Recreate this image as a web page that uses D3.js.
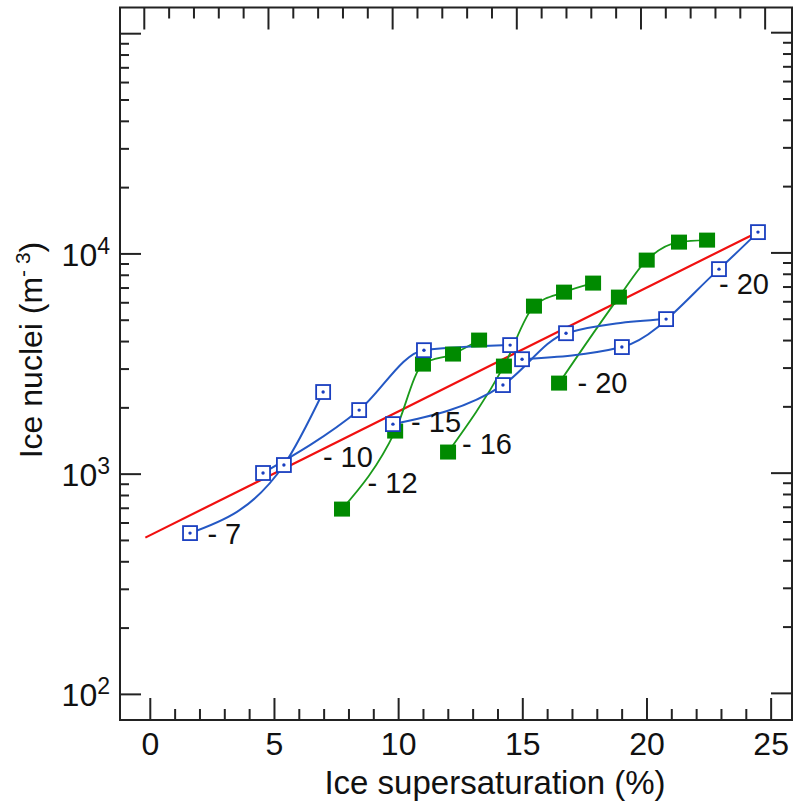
<!DOCTYPE html>
<html>
<head>
	<meta charset="utf-8">
	<title>Ice nuclei</title>
	<script src="https://cdn.jsdelivr.net/npm/d3@7/dist/d3.min.js"></script>
	<style type="text/css">
		body{
			margin: 0;
			padding: 0;
			background: #fff;
		}
		svg{
			display: block;
		}
		.tick-label{
			font-family: "Liberation Sans", Arial, sans-serif;
			font-size: 32px;
			fill: #111;
		}
		.temp-label{
			font-family: "Liberation Sans", Arial, sans-serif;
			font-size: 29px;
			fill: #111;
		}
	</style>
</head>
<body>
	<svg id="svg" width="798" height="802"></svg>
</body>
	<script type="text/javascript">
		// axis ticks
		const xMajor = [0, 5, 10, 15, 20, 25];
		const xMinor = d3.range(0, 26, 1);
		const yMajor = [100, 1000, 10000, 100000];
		const yLabelled = [2, 3, 4];

		// red fit line (end points)
		const fitX = [-0.2, 24.4];
		const fitY = [515, 12450];

		// blue curves (open squares)
		const blue7X = [1.6, 5.38, 6.96];
		const blue7Y = [540, 1100, 2360];
		const blue10X = [4.54, 8.41, 11.02, 14.49];
		const blue10Y = [1012, 1954, 3655, 3855];
		const blue15X = [9.77, 14.20, 16.74, 20.77];
		const blue15Y = [1687, 2538, 4365, 5058];
		const blue20X = [14.97, 18.99, 22.90, 24.47];
		const blue20Y = [3326, 3776, 8530, 12560];

		// green curves (filled squares)
		const green12X = [7.72, 9.86, 10.98, 12.19, 13.24];
		const green12Y = [694, 1569, 3160, 3510, 4062];
		const green16X = [11.99, 14.24, 15.45, 16.66, 17.83];
		const green16Y = [1260, 3095, 5794, 6707, 7371];
		const green20X = [16.46, 18.87, 19.99, 21.29, 22.42];
		const green20Y = [2591, 6367, 9374, 11314, 11553];

		// temperature labels
		const tempText = ['- 7', '- 10', '- 15', '- 20', '- 12', '- 16', '- 20'];
		const tempX = [2.3, 6.95, 10.5, 22.9, 8.75, 12.55, 17.2];
		const tempY = [540, 1196, 1730, 7370, 920, 1383, 2618];

		const zip = (xs, ys) => xs.map((v, i) => ({x: v, y: ys[i]}));

		const blueSeries = [zip(blue7X, blue7Y), zip(blue10X, blue10Y), zip(blue15X, blue15Y), zip(blue20X, blue20Y)];
		const greenSeries = [zip(green12X, green12Y), zip(green16X, green16Y), zip(green20X, green20Y)];

		let svg = d3.select('#svg');
		let pLeft = 120, pRight = 792, pTop = 7.5, pBottom = 720;

		let x = d3.scaleLinear().domain([-1.22, 25.84]).range([pLeft, pRight]);
		let y = d3.scaleLog().domain([76.5, 131500]).range([pBottom, pTop]);

		svg.append('rect').attr('width', 798).attr('height', 802).style('fill', '#fff');

		let plot = svg.append('g');

		// red line
		plot.append('path')
			.datum(zip(fitX, fitY))
			.attr('d', d3.line().x(d => x(d.x)).y(d => y(d.y)))
			.style('fill', 'none')
			.style('stroke', '#f01010')
			.style('stroke-width', 2.2);

		let curve = d3.line().x(d => x(d.x)).y(d => y(d.y)).curve(d3.curveMonotoneX);

		greenSeries.forEach(function(s){
			plot.append('path').datum(s).attr('d', curve)
				.style('fill', 'none').style('stroke', '#1a9a1a').style('stroke-width', 1.8);
		});
		blueSeries.forEach(function(s){
			plot.append('path').datum(s).attr('d', curve)
				.style('fill', 'none').style('stroke', '#2458c4').style('stroke-width', 2);
		});

		// markers
		greenSeries.forEach(function(s){
			plot.selectAll(null).data(s).enter().append('rect')
				.attr('x', d => x(d.x) - 8).attr('y', d => y(d.y) - 7.5)
				.attr('width', 16).attr('height', 15)
				.style('fill', '#008a00');
		});
		blueSeries.forEach(function(s){
			let g = plot.selectAll(null).data(s).enter().append('g')
				.attr('transform', d => 'translate(' + x(d.x) + ',' + y(d.y) + ')');
			g.append('rect').attr('x', -7).attr('y', -7).attr('width', 14).attr('height', 14)
				.style('fill', '#fff').style('stroke', '#1a3fc0').style('stroke-width', 1.8);
			g.append('circle').attr('r', 1.7).style('fill', '#1a3fc0');
		});

		// temperature labels
		tempText.forEach(function(t, i){
			svg.append('text').attr('class', 'temp-label')
				.attr('x', x(tempX[i])).attr('y', y(tempY[i]))
				.attr('dy', '0.36em')
				.text(t);
		});

		// frame
		svg.append('rect')
			.attr('x', pLeft).attr('y', pTop)
			.attr('width', pRight - pLeft).attr('height', pBottom - pTop)
			.style('fill', 'none').style('stroke', '#222').style('stroke-width', 2);

		// ticks
		let ticks = svg.append('g').style('stroke', '#222').style('stroke-width', 2);
		let topShift = -6;
		xMinor.forEach(function(v){
			let len = xMajor.indexOf(v) >= 0 ? 22 : 11;
			ticks.append('line').attr('x1', x(v)).attr('x2', x(v)).attr('y1', pBottom).attr('y2', pBottom - len);
			ticks.append('line').attr('x1', x(v) + topShift).attr('x2', x(v) + topShift).attr('y1', pTop).attr('y2', pTop + len);
		});
		let yMinor = [];
		yMajor.forEach(function(d){
			d3.range(1, 10).forEach(function(k){
				let v = d * k;
				if(v >= y.domain()[0] && v <= y.domain()[1]) yMinor.push({v: v, major: k === 1});
			});
		});
		yMinor.forEach(function(t){
			let len = t.major ? 21 : 9;
			ticks.append('line').attr('x1', pLeft).attr('x2', pLeft + len).attr('y1', y(t.v)).attr('y2', y(t.v));
			ticks.append('line').attr('x1', pRight).attr('x2', pRight - len).attr('y1', y(t.v) - 1).attr('y2', y(t.v) - 1);
		});

		// tick labels
		xMajor.forEach(function(v){
			svg.append('text').attr('class', 'tick-label')
				.attr('x', x(v)).attr('y', 755)
				.style('text-anchor', 'middle')
				.text(v);
		});
		yLabelled.forEach(function(e){
			let t = svg.append('text').attr('class', 'tick-label')
				.attr('x', 110).attr('y', y(Math.pow(10, e)) + 12)
				.style('text-anchor', 'end');
			t.append('tspan').text('10');
			t.append('tspan').attr('dy', -12).style('font-size', '23px').text(e);
		});

		// axis titles
		svg.append('text').attr('class', 'tick-label')
			.attr('x', 495).attr('y', 794)
			.style('text-anchor', 'middle')
			.style('font-size', '33px')
			.text('Ice supersaturation (%)');

		let yt = svg.append('text').attr('class', 'tick-label')
			.attr('transform', 'translate(42,350) rotate(-90)')
			.style('text-anchor', 'middle')
			.style('font-size', '32px');
		yt.append('tspan').text('Ice nuclei (m');
		yt.append('tspan').attr('dy', -12).style('font-size', '21px').text('- 3');
		yt.append('tspan').attr('dy', 12).text(')');
	</script>
</html>
